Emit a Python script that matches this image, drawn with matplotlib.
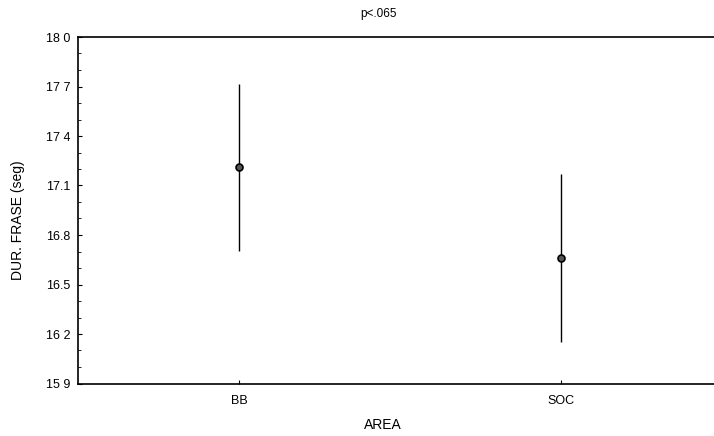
import matplotlib.pyplot as plt
from matplotlib.ticker import MultipleLocator

plt.rcParams['font.family'] = ['Liberation Sans', 'DejaVu Sans']

areas = ["BB", "SOC"]
means = [17.21, 16.66]
errors = [0.505, 0.51]
y_ticks = [15.9, 16.2, 16.5, 16.8, 17.1, 17.4, 17.7, 18.0]
y_tick_labels = ["15 9", "16 2", "16.5", "16.8", "17.1", "17 4", "17 7", "18 0"]

fig = plt.figure(figsize=(7.14, 4.36), dpi=100)
ax = fig.add_axes([78 / 714, 52.5 / 436, 644 / 714, 346.5 / 436])

x = list(range(len(areas)))
ax.errorbar(x, means, yerr=errors, fmt='o', color='black', ecolor='black',
            elinewidth=1.0, capsize=0, markersize=5,
            markerfacecolor='#555555', markeredgecolor='black', markeredgewidth=1.2)

ax.set_xlim(-0.5, 1.5)
ax.set_ylim(15.9, 18.0)
ax.set_xticks(x)
ax.set_xticklabels(areas)
ax.set_yticks(y_ticks)
ax.set_yticklabels(y_tick_labels)
ax.yaxis.set_minor_locator(MultipleLocator(0.1))

ax.tick_params(axis='both', which='major', direction='in', length=3, width=0.8,
               labelsize=9)
ax.tick_params(axis='x', which='major', pad=8)
ax.tick_params(axis='y', which='major', pad=5.5)
ax.tick_params(axis='y', which='minor', direction='in', length=2, width=0.6)
for side in ['left', 'top', 'bottom']:
    ax.spines[side].set_linewidth(1.2)
ax.spines['right'].set_visible(False)

ax.set_xlabel("AREA", fontsize=10)
ax.xaxis.set_label_coords((383 - 78) / 644, -(425 - 383.5) / 346.5)
ax.xaxis.label.set_va('center')
ax.set_ylabel("DUR. FRASE (seg)", fontsize=10)
ax.yaxis.set_label_coords((18 - 78) / 644, (383.5 - 220) / 346.5)
ax.yaxis.label.set_va('center')
fig.text(379 / 714, 1 - 14 / 436, "p<.065", ha='center', va='center', fontsize=8.5)

fig.savefig("out.png", dpi=100)
